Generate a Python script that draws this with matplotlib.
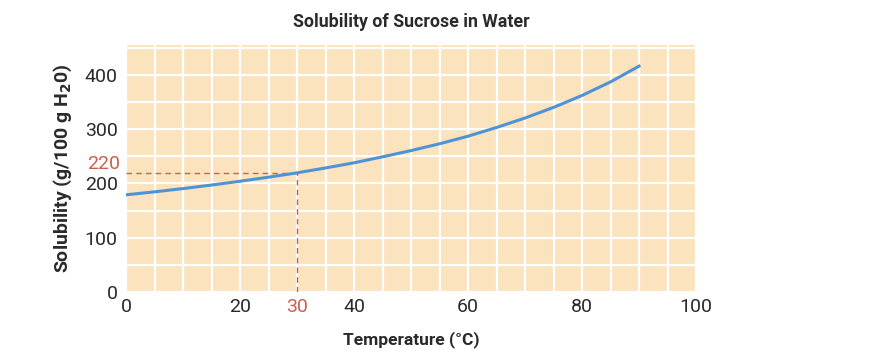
import matplotlib.pyplot as plt

# sucrose solubility (every 5 degC)
temps = [0, 5, 10, 15, 20, 25, 30, 35, 40, 45, 50, 55, 60, 65, 70, 75, 80, 85, 90]
solubility = [179, 184.5, 190.5, 197, 204, 211.5, 219.5, 228.5, 238, 249, 260.5,
              273, 287, 303, 320.5, 340, 362, 387, 416]
x_ticks = [0, 20, 30, 40, 60, 80, 100]
y_ticks = [0, 100, 200, 300, 400]
marked_temp = 30
marked_sol = 220

plt.rcParams["font.family"] = ["Roboto", "DejaVu Sans"]

bg = "#fbe4bd"
red = "#c8604f"
blue = "#4f93d4"
ink = "#2b2a2a"

fig = plt.figure(figsize=(8.72, 3.62), dpi=100)
ax = fig.add_axes([126 / 872, 70 / 362, 570 / 872, 247 / 362])
ax.set_facecolor(bg)
ax.set_xlim(0, 100)
ax.set_ylim(0, 455)

ax.set_xticks(x_ticks)
ax.set_yticks(y_ticks)
ax.set_xticks(range(0, 101, 5), minor=True)
ax.set_yticks(range(0, 451, 50), minor=True)
ax.grid(which="both", color="white", linewidth=1.6)
ax.set_axisbelow(True)
for s in ax.spines.values():
    s.set_visible(False)

ax.plot(temps, solubility, color=blue, linewidth=2.2, zorder=3)

ax.plot([0, marked_temp], [marked_sol, marked_sol], color=red, linestyle=(0, (4, 3)),
        linewidth=1.0, zorder=2)
ax.plot([marked_temp, marked_temp], [0, marked_sol], color=red, linestyle=(0, (4, 3)),
        linewidth=1.0, zorder=2)

ax.tick_params(which="both", length=0)
ax.tick_params(axis="x", pad=4, labelsize=14, labelcolor=ink)
ax.tick_params(axis="y", pad=6, labelsize=14, labelcolor=ink)
for lbl in ax.get_xticklabels():
    if lbl.get_text() == str(marked_temp):
        lbl.set_color(red)

ax.annotate(str(marked_sol), xy=(0, marked_sol), xycoords=ax.get_yaxis_transform(),
            xytext=(-4.3, 6), textcoords="offset points", ha="right", va="center",
            fontsize=14, color=red)

ax.set_title("Solubility of Sucrose in Water", fontsize=12.8, fontweight="bold",
             color=ink, pad=13)
ax.set_xlabel("Temperature (°C)", fontsize=12.5, fontweight="bold", color=ink, labelpad=11)
ax.set_ylabel("Solubility (g/100 g H$_\\mathbf{2}$0)", fontsize=14, fontweight="bold",
              color=ink, labelpad=8)

fig.savefig("out.png", dpi=100)
